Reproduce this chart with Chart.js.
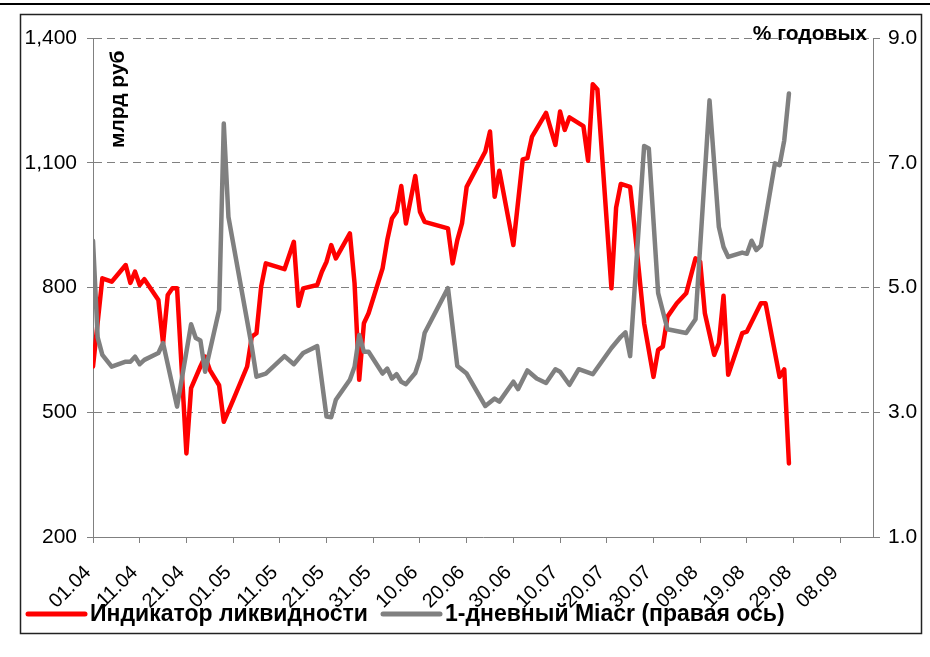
<!DOCTYPE html>
<html>
<head>
<meta charset="utf-8">
<script src="https://cdn.jsdelivr.net/npm/chart.js@4.4.0/dist/chart.umd.min.js"></script>
<style>
  body { margin: 0; background: #fff; }
</style>
</head>
<body>
<canvas id="mychart" width="930" height="657"></canvas>
<script>

// индикатор ликвидности, млрд руб (левая ось)
let liq_dates = ['01.04','03.04','05.04','08.04','09.04','10.04','11.04','12.04','15.04','16.04',
  '17.04','18.04','19.04','20.04','21.04','22.04','24.04','25.04','26.04','28.04','29.04',
  '01.05','04.05','05.05','06.05','07.05','08.05','12.05','14.05','15.05','16.05','19.05',
  '20.05','21.05','22.05','23.05','26.05','27.05','28.05','29.05','30.05','02.06','03.06',
  '04.06','05.06','06.06','07.06','09.06','10.06','11.06','16.06','17.06','18.06','19.06',
  '20.06','24.06','25.06','26.06','27.06','30.06','02.07','03.07','04.07','07.07','09.07',
  '10.07','11.07','12.07','15.07','16.07','17.07','18.07','21.07','22.07','23.07','25.07',
  '26.07','27.07','28.07','30.07','31.07','01.08','02.08','04.08','06.08','08.08','09.08',
  '10.08','12.08','13.08','14.08','15.08','18.08','19.08','22.08','23.08','26.08','27.08','28.08'];
let liq_values = [610,822,814,854,811,838,806,820,770,666,
  782,798,798,602,401,558,610,634,602,565,477,
  529,610,682,690,802,858,844,910,756,798,806,
  838,862,902,870,930,810,578,714,738,846,914,
  966,982,1044,954,1068,982,958,942,858,914,954,
  1042,1127,1175,1018,1081,902,1108,1111,1163,1220,1143,
  1223,1179,1209,1188,1105,1289,1276,798,992,1049,1042,
  938,826,714,585,650,658,730,762,786,870,862,
  738,638,666,780,590,690,694,762,762,585,603,377];

// 1-дневный Miacr, % годовых (правая ось)
let miacr_dates = ['01.04','02.04','03.04','05.04','08.04','09.04','10.04','11.04','12.04','15.04',
  '16.04','19.04','22.04','23.04','24.04','25.04','28.04','29.04','30.04','05.05','06.05',
  '08.05','12.05','14.05','16.05','19.05','21.05','22.05','23.05','26.05','27.05','28.05',
  '29.05','30.05','02.06','03.06','04.06','05.06','06.06','07.06','09.06','10.06','11.06',
  '16.06','18.06','20.06','24.06','26.06','27.06','30.06','01.07','03.07','05.07','07.07',
  '09.07','10.07','12.07','14.07','17.07','21.07','23.07','24.07','25.07','28.07','29.07',
  '31.07','02.08','06.08','08.08','11.08','13.08','14.08','15.08','18.08','19.08','20.08',
  '21.08','22.08','25.08','26.08','27.08','28.08'];
let miacr_values = [5.75,4.2,3.92,3.73,3.81,3.81,3.89,3.77,3.84,3.95,
  4.11,3.09,4.41,4.19,4.15,3.65,4.64,7.63,6.13,4.05,3.57,
  3.62,3.90,3.77,3.95,4.06,2.93,2.92,3.20,3.52,3.73,4.24,
  3.97,3.97,3.62,3.70,3.54,3.61,3.49,3.45,3.63,3.86,4.27,
  4.99,3.74,3.62,3.10,3.22,3.17,3.49,3.37,3.67,3.54,3.47,
  3.69,3.65,3.44,3.69,3.61,4.03,4.21,4.28,3.90,7.27,7.23,
  4.91,4.33,4.27,4.49,8.00,5.97,5.65,5.49,5.56,5.54,5.75,
  5.60,5.67,6.99,6.96,7.36,8.11];

// подписи оси X
let x_labels = ['01.04','11.04','21.04','01.05','11.05','21.05','31.05','10.06','20.06',
  '30.06','10.07','20.07','30.07','09.08','19.08','29.08','08.09'];
let x_end = '15.09';   // правый край оси
let left_ticks = [200, 1400, 300];   // min, max, шаг
let right_ticks = [1, 9, 2];

let serie_names = ['Индикатор ликвидности', '1-дневный Miacr (правая ось)'];

const FONT = "'Liberation Sans', Arial, sans-serif";
const DAY = 86400000;
const START = Date.UTC(2008, 3, 1);

function day_of(s) {
  let p = s.split('.');
  return (Date.UTC(2008, Number(p[1]) - 1, Number(p[0])) - START) / DAY;
}

function label_of(d) {
  let dt = new Date(START + d * DAY);
  let dd = String(dt.getUTCDate()).padStart(2, '0');
  let mm = String(dt.getUTCMonth() + 1).padStart(2, '0');
  return dd + '.' + mm;
}

function pontos(dates, values) {
  return dates.map((s, i) => ({ x: day_of(s), y: values[i] }));
}

// рамка, подписи осей и легенда
const enfeite = {
  id: 'enfeite',
  beforeDraw(chart) {
    let c = chart.ctx;
    c.save();
    c.fillStyle = '#fff';
    c.fillRect(0, 0, chart.width, chart.height);
    c.fillStyle = '#000';
    c.fillRect(0, 3, chart.width, 2);
    c.strokeStyle = '#222';
    c.lineWidth = 1.5;
    c.strokeRect(20.5, 14.5, 901, 619);
    c.restore();
  },
  afterDraw(chart) {
    let c = chart.ctx;
    let a = chart.chartArea;
    c.save();
    c.fillStyle = '#000';
    c.font = 'bold 21px ' + FONT;
    c.textBaseline = 'middle';

    c.textAlign = 'right';
    c.fillText('% годовых', a.right - 6, a.top - 4);

    c.save();
    c.translate(a.left + 25, a.top + 110);
    c.rotate(-Math.PI / 2);
    c.textAlign = 'left';
    c.fillText('млрд руб', 0, 0);
    c.restore();

    // легенда
    let ly = a.bottom + 77;
    let pos = [28, 383];
    c.font = 'bold 23px ' + FONT;
    c.textAlign = 'left';
    chart.data.datasets.forEach((ds, i) => {
      let x0 = pos[ds.legend_pos];
      c.strokeStyle = ds.borderColor;
      c.lineWidth = 5;
      c.lineCap = 'round';
      c.beginPath();
      c.moveTo(x0, ly);
      c.lineTo(x0 + 57, ly);
      c.stroke();
      c.fillText(ds.label, x0 + 62, ly + 1);
    });
    c.restore();
  }
};

function grafico(ctx) {
  let datasets = [
    {
      label: serie_names[1],
      data: pontos(miacr_dates, miacr_values),
      yAxisID: 'y1',
      borderColor: '#808080',
      borderWidth: 4.5,
      legend_pos: 1
    },
    {
      label: serie_names[0],
      data: pontos(liq_dates, liq_values),
      yAxisID: 'y',
      borderColor: '#ff0000',
      borderWidth: 4.5,
      legend_pos: 0
    }
  ];

  return new Chart(ctx, {
    type: 'line',
    data: { datasets: datasets },
    options: {
      responsive: false,
      animation: false,
      events: [],
      elements: {
        point: { radius: 0 },
        line: { tension: 0, fill: false, borderJoinStyle: 'round', borderCapStyle: 'round' }
      },
      layout: { padding: { left: 22, right: 10, top: 38, bottom: 0 } },
      plugins: { legend: { display: false }, tooltip: { enabled: false } },
      scales: {
        x: {
          type: 'linear',
          min: day_of(x_labels[0]),
          max: day_of(x_end),
          afterBuildTicks: s => { s.ticks = x_labels.map(l => ({ value: day_of(l) })); },
          afterFit: s => { s.height = 120; },
          ticks: {
            autoSkip: false,
            minRotation: 45,
            maxRotation: 45,
            padding: 18,
            labelOffset: -5,
            color: '#000',
            font: { family: FONT, size: 20 },
            callback: v => label_of(v)
          },
          grid: { drawOnChartArea: false, color: '#808080', tickLength: 6 },
          border: { color: '#808080', width: 1 }
        },
        y: {
          position: 'left',
          min: left_ticks[0],
          max: left_ticks[1],
          afterFit: s => { s.width = 71; },
          ticks: {
            stepSize: left_ticks[2],
            padding: 10,
            color: '#000',
            font: { family: FONT, size: 21 },
            callback: v => v.toLocaleString('en-US')
          },
          grid: { color: '#808080', tickLength: 6 },
          border: { color: '#808080', width: 1, dash: [8, 5] }
        },
        y1: {
          position: 'right',
          min: right_ticks[0],
          max: right_ticks[1],
          afterFit: s => { s.width = 47; },
          ticks: {
            stepSize: right_ticks[2],
            padding: 8,
            color: '#000',
            font: { family: FONT, size: 21 },
            callback: v => v.toFixed(1)
          },
          grid: { drawOnChartArea: false, color: '#808080', tickLength: 7 },
          border: { color: '#808080', width: 1 }
        }
      }
    },
    plugins: [enfeite]
  });
}

let ctx = document.getElementById('mychart');
let chart = grafico(ctx);
</script>
</body>
</html>
